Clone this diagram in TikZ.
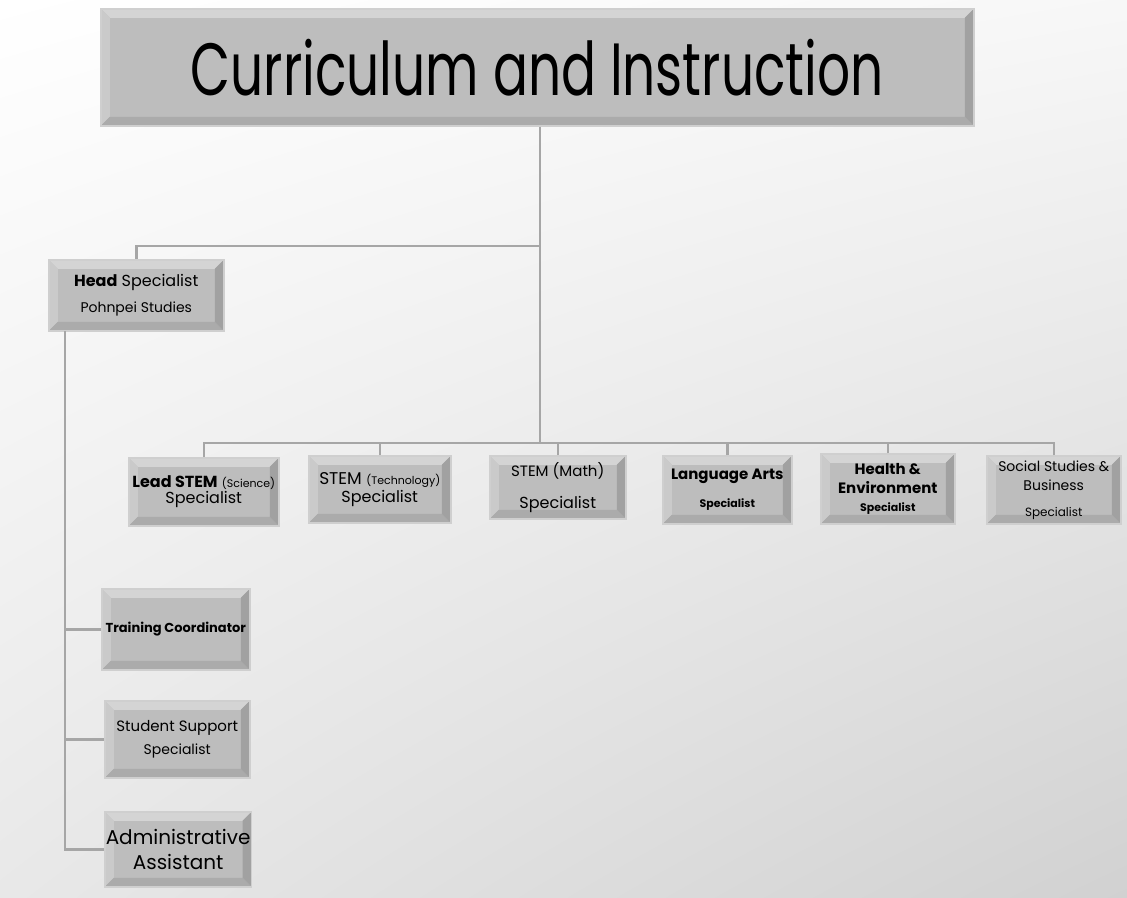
\documentclass[tikz,border=0pt]{standalone}
\usepackage{fontspec}
\setmainfont{Poppins}
\newfontfamily\titlefont[FakeStretch=0.70]{Poppins}
\usetikzlibrary{shadings}

\definecolor{panelface}{HTML}{BDBDBD}
\definecolor{panelrim}{HTML}{CFCFCF}
\definecolor{bevtop}{HTML}{D4D4D4}
\definecolor{bevleft}{HTML}{CACACA}
\definecolor{bevbottom}{HTML}{ABABAB}
\definecolor{bevright}{HTML}{A1A1A1}
\definecolor{linkgray}{HTML}{A6A6A6}

\newcommand{\fs}[1]{\fontsize{#1}{#1}\selectfont}

\tikzset{
  panel/.style={rectangle, draw=panelrim, line width=1.5pt, fill=panelface,
    inner sep=1pt, align=center, anchor=north west,
    path picture={
      \coordinate (pnw) at (path picture bounding box.north west);
      \coordinate (pne) at (path picture bounding box.north east);
      \coordinate (psw) at (path picture bounding box.south west);
      \coordinate (pse) at (path picture bounding box.south east);
      \fill[bevtop] (pnw) -- (pne) -- ([xshift=-9pt,yshift=-9pt]pne) -- ([xshift=9pt,yshift=-9pt]pnw) -- cycle;
      \fill[bevleft] (pnw) -- ([xshift=9pt,yshift=-9pt]pnw) -- ([xshift=9pt,yshift=9pt]psw) -- (psw) -- cycle;
      \fill[bevbottom] (psw) -- ([xshift=9pt,yshift=9pt]psw) -- ([xshift=-9pt,yshift=9pt]pse) -- (pse) -- cycle;
      \fill[bevright] (pse) -- ([xshift=-9pt,yshift=9pt]pse) -- ([xshift=-9pt,yshift=-9pt]pne) -- (pne) -- cycle;
    }},
  link/.style={draw=linkgray, line width=2.5pt},
}

\begin{document}
\begin{tikzpicture}[x=1pt, y=-1pt]

    \useasboundingbox (0,0) rectangle (1127,897);
    \shade[upper left=white, upper right=black!3, lower left=black!9, lower right=black!18] (0,0) rectangle (1127,897);

    % title
    \node[panel, minimum width=873, minimum height=117] (ci) at (100,8) {\titlefont\fs{74}Curriculum and Instruction};

    \coordinate (hub) at (540,246);
    \coordinate (bar) at (540,443);
    \coordinate (spine) at (65,331);

    % head
    \node[panel, minimum width=175, minimum height=71] (head) at (48,259)
        {\fs{16}\textbf{Head} Specialist\\[10pt]\fs{14}Pohnpei Studies};

    % specialists row
    \node[panel, minimum width=150, minimum height=68] (lead) at (128,457)
        {\fs{16}\textbf{Lead STEM} \fs{11}(Science)\\[1pt]\fs{16}Specialist};
    \node[panel, minimum width=142, minimum height=67] (tech) at (308,455)
        {\fs{17}STEM \fs{11}(Technology)\\[2pt]\fs{16}Specialist};
    \node[panel, minimum width=136, minimum height=63] (math) at (489,455)
        {\fs{15}STEM (Math)\\[16pt]\fs{16}Specialist};
    \node[panel, minimum width=129, minimum height=68] (lang) at (662,455)
        {\fs{15}\textbf{Language Arts}\\[14pt]\fs{11}\textbf{Specialist}};
    \node[panel, minimum width=134, minimum height=70] (health) at (820,453)
        {\fs{15}\textbf{Health \&}\\[6pt]\fs{15}\textbf{Environment}\\[6pt]\fs{11}\textbf{Specialist}};
    \node[panel, minimum width=134, minimum height=68] (social) at (986,455)
        {\fs{14}Social Studies \&\\[7pt]\fs{14}Business\\[14pt]\fs{12}Specialist};

    % support staff
    \node[panel, minimum width=148, minimum height=81] (train) at (101,588)
        {\fs{13}\textbf{Training Coordinator}};
    \node[panel, minimum width=145, minimum height=77] (student) at (104,700)
        {\fs{15}Student Support\\[8pt]\fs{14}Specialist};
    \node[panel, minimum width=145, minimum height=75] (admin) at (104,811)
        {\fs{20}Administrative\\[9pt]\fs{20}Assistant};

    % connectors
    \draw[link] (ci.south -| bar) -- (bar);
    \draw[link] (hub) -| (head.north);
    \foreach \n in {lead,tech,math,lang,health,social}
        \draw[link] (\n.north) |- (bar);
    \foreach \n in {train,student,admin}
        \draw[link] (spine) |- (\n.west);

\end{tikzpicture}
\end{document}
